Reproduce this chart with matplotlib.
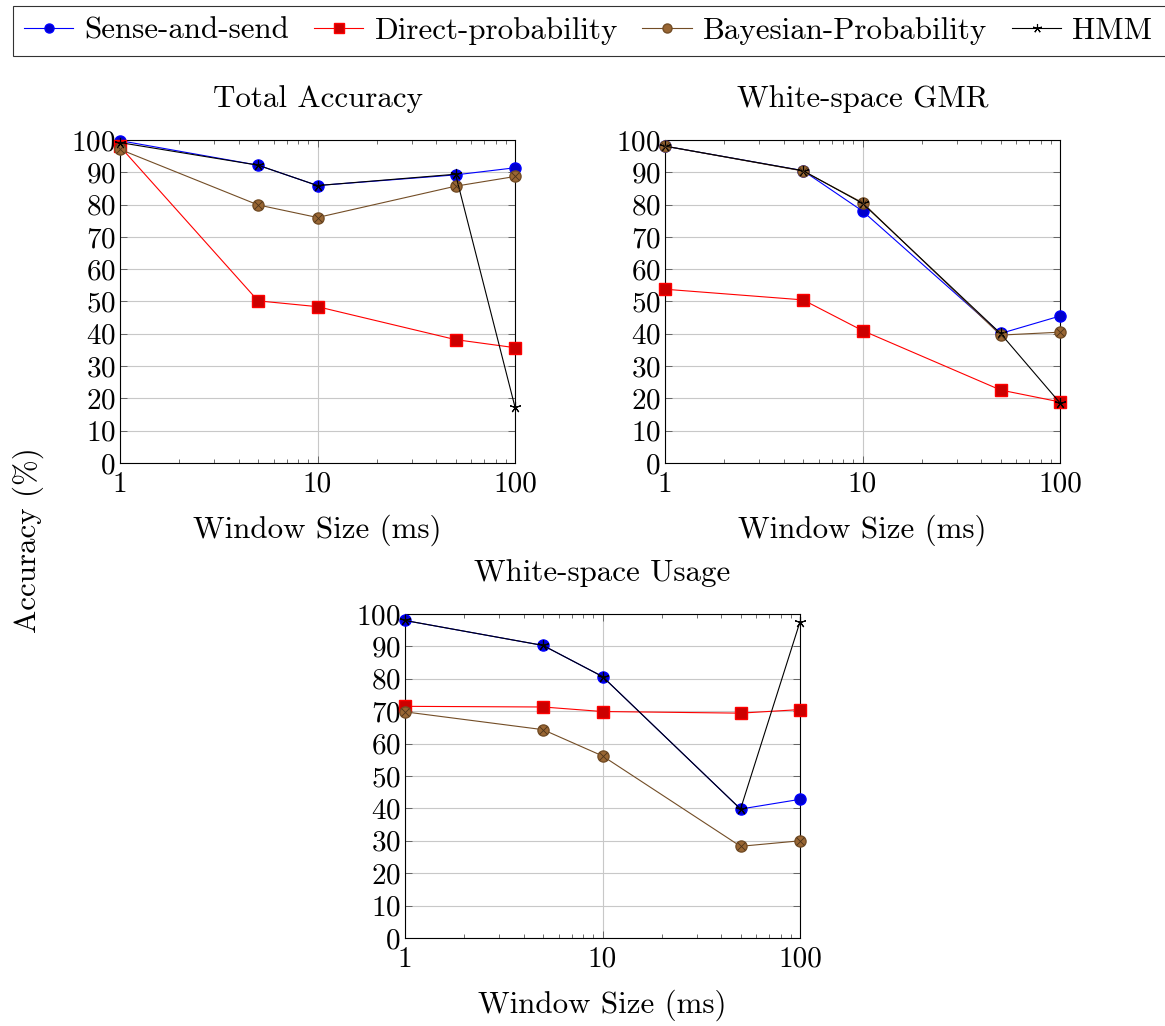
import numpy as np
import matplotlib.pyplot as plt
from matplotlib.lines import Line2D

plt.rcParams["font.family"] = "cmr10"
plt.rcParams["mathtext.fontset"] = "cm"
plt.rcParams["axes.formatter.use_mathtext"] = True

window_ms = [1, 5, 10, 50, 100]
series_names = ["Sense-and-send", "Direct-probability", "Bayesian-Probability", "HMM"]

titles = ["Total Accuracy", "White-space GMR", "White-space Usage"]

total_acc = {
    "Sense-and-send": [99.8, 92.2, 85.9, 89.2, 91.4],
    "Direct-probability": [98.0, 50.2, 48.4, 38.2, 35.7],
    "Bayesian-Probability": [97.1, 79.9, 76.0, 85.7, 88.7],
    "HMM": [99.2, 92.2, 85.9, 89.4, 17.3],
}
gmr_acc = {
    "Sense-and-send": [98.1, 90.5, 78.0, 40.1, 45.5],
    "Direct-probability": [53.8, 50.5, 41.0, 22.6, 18.9],
    "Bayesian-Probability": [98.1, 90.4, 80.6, 39.6, 40.5],
    "HMM": [98.1, 90.5, 80.4, 40.1, 18.6],
}
usage_acc = {
    "Sense-and-send": [98.0, 90.3, 80.7, 39.8, 42.8],
    "Direct-probability": [71.5, 71.3, 69.9, 69.4, 70.5],
    "Bayesian-Probability": [69.8, 64.3, 56.2, 28.3, 30.0],
    "HMM": [98.0, 90.3, 80.7, 39.8, 97.6],
}

# pgfplots default cycle list look
styles = {
    "Sense-and-send": dict(color=(0, 0, 1), marker="o", ms=8, mfc=(0, 0, 0.8), mec=(0, 0, 1)),
    "Direct-probability": dict(color=(1, 0, 0), marker="s", ms=8, mfc=(0.8, 0, 0), mec=(1, 0, 0)),
    "Bayesian-Probability": dict(color=(0.45, 0.3, 0.15), marker="o", ms=8, mfc=(0.6, 0.4, 0.2), mec=(0.45, 0.3, 0.15)),
    "HMM": dict(color="black", marker=(5, 2, 0), ms=8, mfc="black", mec="black", mew=0.8),
}

TICK_FS = 21
FS = 22.3
W, H = 1165, 1026
fig = plt.figure(figsize=(W / 100, H / 100), dpi=100)

boxes = [(120, 140, 515, 463), (665, 140, 1060, 463), (405, 614, 800, 938)]


def draw_panel(ax, data, title):
    for name in series_names:
        st = dict(styles[name])
        ax.plot(window_ms, data[name], lw=0.8, zorder=3, clip_on=False, **st)
        if name == "Bayesian-Probability":
            ax.plot(window_ms, data[name], ls="none", marker="x", ms=5.5, mew=0.6,
                    color=(0.3, 0.2, 0.1), zorder=4, clip_on=False)
    ax.set_xscale("log")
    ax.set_xlim(1, 100)
    ax.set_ylim(0, 100)
    ax.set_yticks(np.arange(0, 101, 10))
    ax.set_xticks([1, 10, 100])
    ax.set_xticklabels(["1", "10", "100"])
    ax.grid(True, which="major", color="#c8c8c8", lw=0.8, zorder=0)
    ax.tick_params(which="both", direction="in", top=True, right=True, labelsize=TICK_FS)
    ax.tick_params(which="major", length=5, width=0.6, color="#555555")
    ax.tick_params(which="minor", length=3, width=0.6, color="#555555")
    ax.tick_params(axis="y", pad=3)
    ax.tick_params(axis="x", pad=6)
    for s in ax.spines.values():
        s.set_linewidth(0.8)
    ax.set_title(title, fontsize=FS, pad=24)
    ax.set_xlabel("Window Size (ms)", fontsize=FS, labelpad=12)


for (l, t, r, b), data, title in zip(boxes, [total_acc, gmr_acc, usage_acc], titles):
    ax = fig.add_axes([l / W, 1 - b / H, (r - l) / W, (b - t) / H])
    draw_panel(ax, data, title)

fig.text(28 / W, 1 - 540 / H, "Accuracy (%)", rotation=90, ha="center", va="center", fontsize=FS)

handles = []
for name in series_names:
    st = dict(styles[name])
    ms = st.pop("ms") - 1.5
    handles.append(Line2D([], [], lw=0.8, ms=ms, **st))
leg = fig.legend(handles, series_names, loc="upper left", bbox_to_anchor=(13 / W, 1 - 6 / H),
                 ncol=4, fontsize=FS, frameon=True, fancybox=False, edgecolor="black",
                 handlelength=1.6, columnspacing=0.6, handletextpad=0.55, borderpad=0.35,
                 borderaxespad=0.0)
leg.get_frame().set_linewidth(0.8)
leg._legend_box.align = "left"
for txt in leg.get_texts():
    txt.set_x(-6)

fig.savefig("out.png", dpi=100)
